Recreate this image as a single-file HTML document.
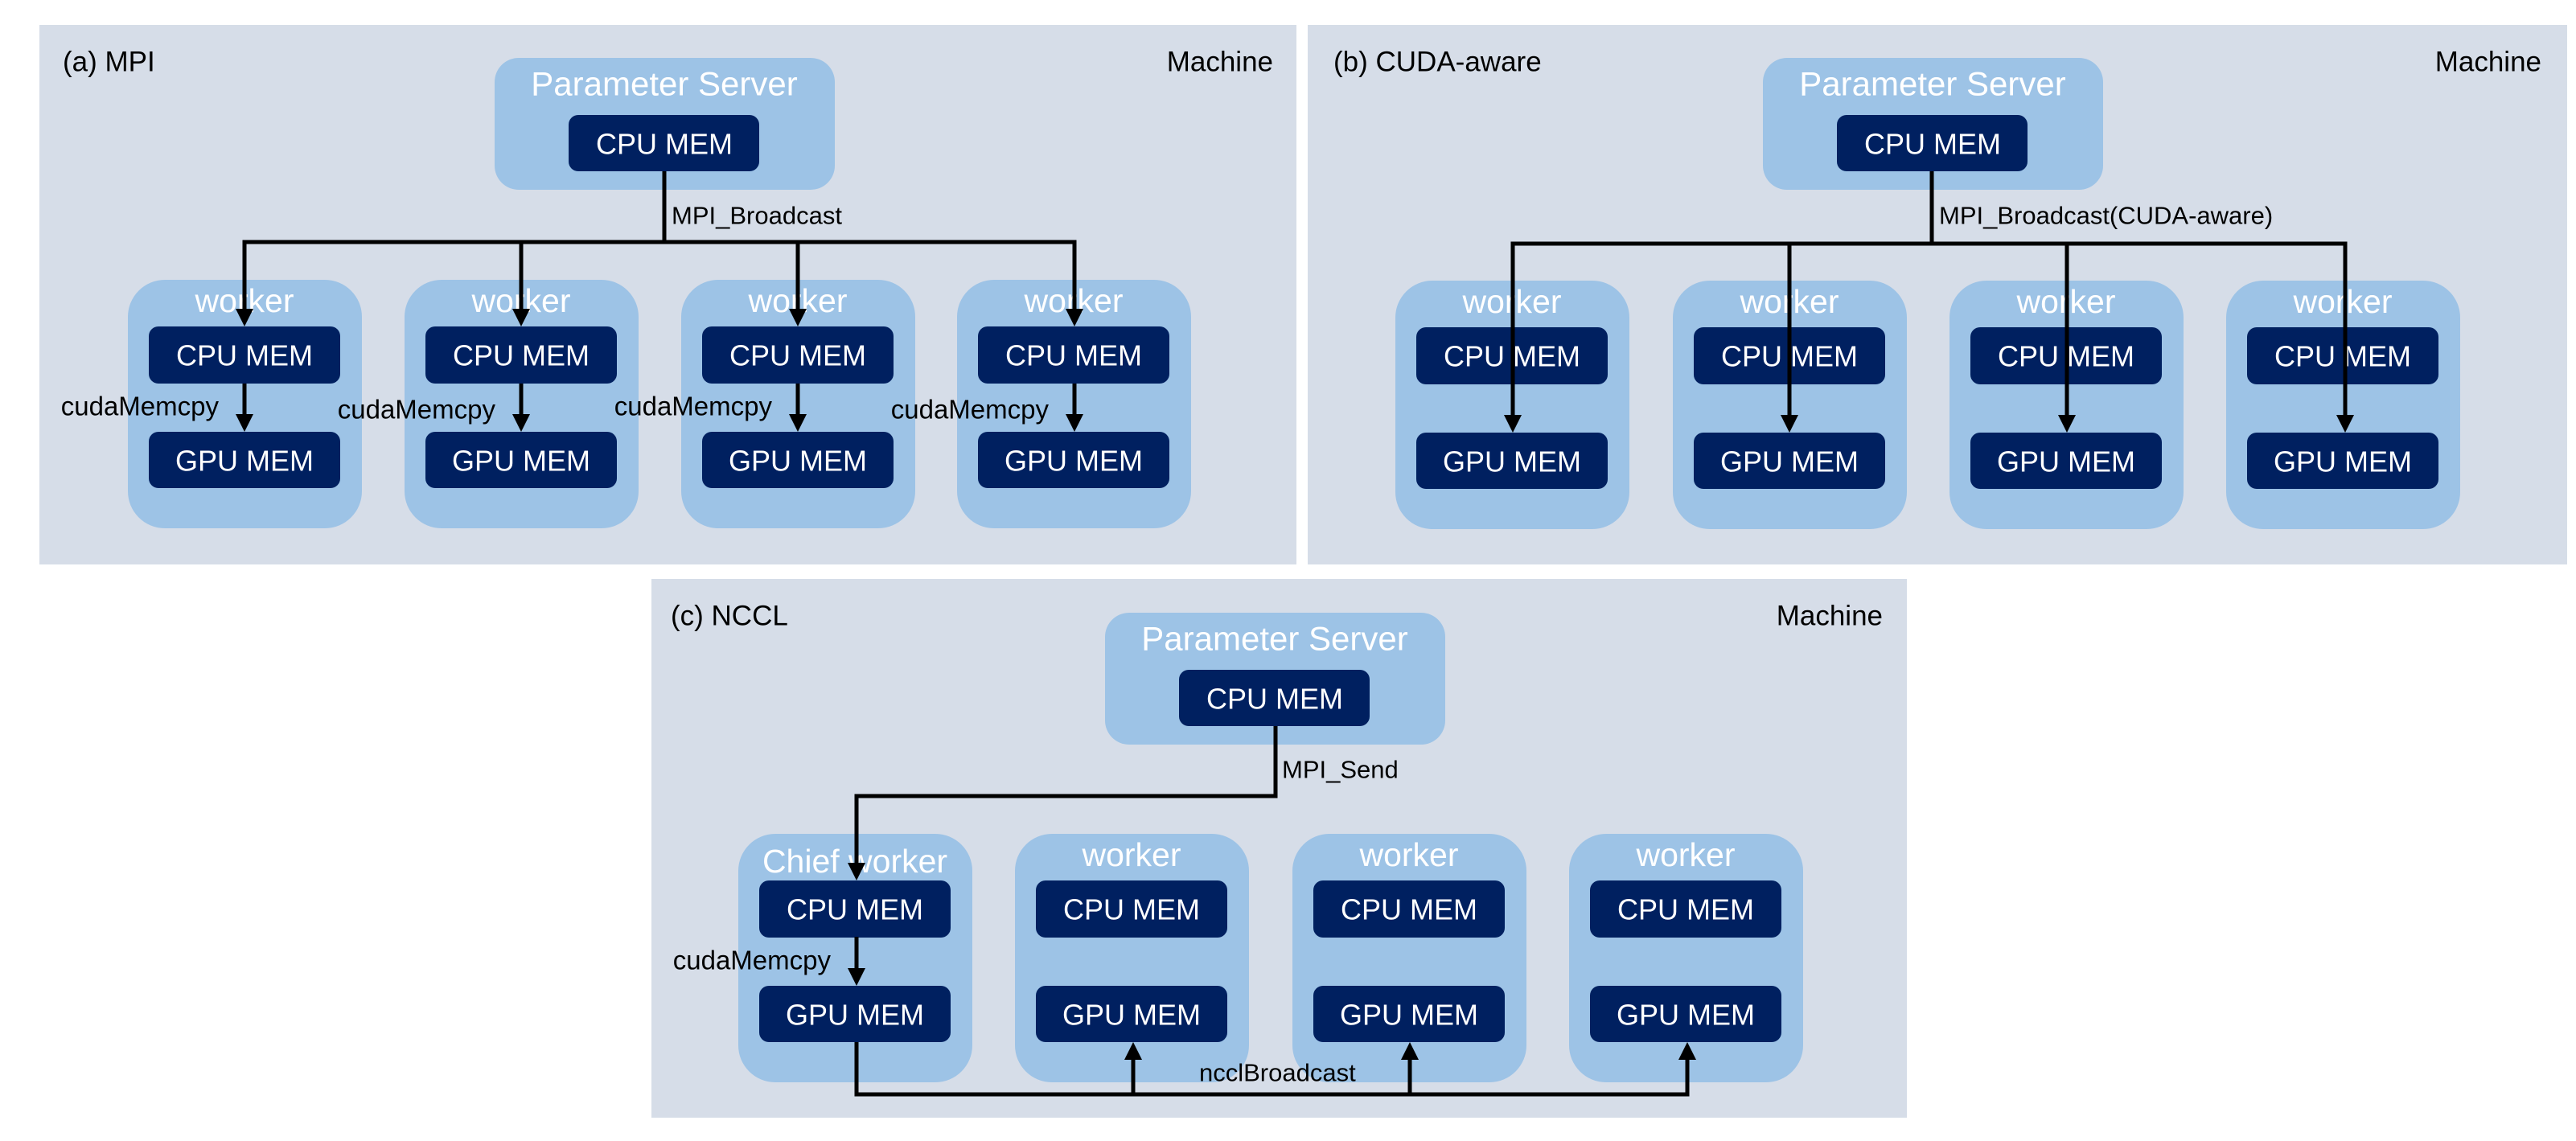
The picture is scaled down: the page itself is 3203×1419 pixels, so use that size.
<!DOCTYPE html>
<html><head><meta charset="utf-8"><style>
html,body{margin:0;padding:0;background:#fff;}
svg{display:block;}
text{font-family:"Liberation Sans",sans-serif;}
</style></head><body>
<svg width="3203" height="1419" viewBox="0 0 3203 1419" xmlns="http://www.w3.org/2000/svg">
<defs>
<g id="ps">
  <rect x="0" y="0" width="423" height="164" rx="30" fill="#9dc3e6"/>
  <text x="211" y="32" font-size="42" fill="#fff" text-anchor="middle" dominant-baseline="central">Parameter Server</text>
  <rect x="92" y="71" width="237" height="70" rx="12" fill="#002060"/>
  <text x="211" y="107" font-size="36" fill="#fff" text-anchor="middle" dominant-baseline="central">CPU MEM</text>
</g>
<g id="wk">
  <rect x="0" y="0" width="291" height="309" rx="46" fill="#9dc3e6"/>
  <rect x="26" y="58" width="238" height="71" rx="12" fill="#002060"/>
  <text x="145" y="94" font-size="36" fill="#fff" text-anchor="middle" dominant-baseline="central">CPU MEM</text>
  <rect x="26" y="189" width="238" height="70" rx="12" fill="#002060"/>
  <text x="145" y="225" font-size="36" fill="#fff" text-anchor="middle" dominant-baseline="central">GPU MEM</text>
</g>
<g id="wkt">
  <use href="#wk"/>
  <text x="145" y="26" font-size="41" fill="#fff" text-anchor="middle" dominant-baseline="central">worker</text>
</g>
</defs>

<!-- Panel A -->
<rect x="49" y="31" width="1563" height="671" fill="#d6dde8"/>
<text x="78" y="77" font-size="35" fill="#000" dominant-baseline="central">(a) MPI</text>
<text x="1583" y="77" font-size="35" fill="#000" text-anchor="end" dominant-baseline="central">Machine</text>
<use href="#ps" x="615" y="72"/>
<use href="#wkt" x="159" y="348"/>
<use href="#wkt" x="503" y="348"/>
<use href="#wkt" x="847" y="348"/>
<use href="#wkt" x="1190" y="348"/>
<g stroke="#000" stroke-width="5" fill="none">
  <path d="M826 213 V301"/>
  <path d="M304 384 V301 H1336 V384"/>
  <path d="M648 301 V384 M992 301 V384"/>
  <path d="M304 477 V516 M648 477 V516 M992 477 V516 M1336 477 V516"/>
</g>
<g fill="#000">
  <path d="M293 384 h22 l-11 22z"/><path d="M637 384 h22 l-11 22z"/><path d="M981 384 h22 l-11 22z"/><path d="M1325 384 h22 l-11 22z"/>
  <path d="M293 515 h22 l-11 22z"/><path d="M637 515 h22 l-11 22z"/><path d="M981 515 h22 l-11 22z"/><path d="M1325 515 h22 l-11 22z"/>
</g>
<text x="835" y="268" font-size="31" dominant-baseline="central">MPI_Broadcast</text>
<g font-size="33" text-anchor="end" dominant-baseline="central">
  <text x="272" y="505">cudaMemcpy</text>
  <text x="616" y="509">cudaMemcpy</text>
  <text x="960" y="505">cudaMemcpy</text>
  <text x="1304" y="509">cudaMemcpy</text>
</g>

<!-- Panel B -->
<rect x="1626" y="31" width="1566" height="671" fill="#d6dde8"/>
<text x="1658" y="77" font-size="35" fill="#000" dominant-baseline="central">(b) CUDA-aware</text>
<text x="3160" y="77" font-size="35" fill="#000" text-anchor="end" dominant-baseline="central">Machine</text>
<use href="#ps" x="2192" y="72"/>
<use href="#wkt" x="1735" y="349"/>
<use href="#wkt" x="2080" y="349"/>
<use href="#wkt" x="2424" y="349"/>
<use href="#wkt" x="2768" y="349"/>
<g stroke="#000" stroke-width="5" fill="none">
  <path d="M2402 213 V303"/>
  <path d="M1881 518 V303 H2916 V518"/>
  <path d="M2225 303 V518 M2570 303 V518"/>
</g>
<g fill="#000">
  <path d="M1870 516 h22 l-11 22z"/><path d="M2214 516 h22 l-11 22z"/><path d="M2559 516 h22 l-11 22z"/><path d="M2905 516 h22 l-11 22z"/>
</g>
<text x="2411" y="268" font-size="31" dominant-baseline="central">MPI_Broadcast(CUDA-aware)</text>

<!-- Panel C -->
<rect x="810" y="720" width="1561" height="670" fill="#d6dde8"/>
<text x="834" y="766" font-size="35" fill="#000" dominant-baseline="central">(c) NCCL</text>
<text x="2341" y="766" font-size="35" fill="#000" text-anchor="end" dominant-baseline="central">Machine</text>
<use href="#ps" x="1374" y="762"/>
<use href="#wk" x="918" y="1037"/>
<text x="1063" y="1071" font-size="41" fill="#fff" text-anchor="middle" dominant-baseline="central">Chief worker</text>
<use href="#wkt" x="1262" y="1037"/>
<use href="#wkt" x="1607" y="1037"/>
<use href="#wkt" x="1951" y="1037"/>
<g stroke="#000" stroke-width="5" fill="none">
  <path d="M1586 903 V990 H1065 V1075"/>
  <path d="M1065 1165 V1206"/>
  <path d="M1065 1296 V1361 H2098 V1316"/>
  <path d="M1409 1361 V1316 M1753 1361 V1316"/>
</g>
<g fill="#000">
  <path d="M1054 1073 h22 l-11 22z"/>
  <path d="M1054 1204 h22 l-11 22z"/>
  <path d="M1398 1318 h22 l-11 -22z"/><path d="M1742 1318 h22 l-11 -22z"/><path d="M2087 1318 h22 l-11 -22z"/>
</g>
<text x="1594" y="957" font-size="31" dominant-baseline="central">MPI_Send</text>
<text x="1033" y="1194" font-size="33" text-anchor="end" dominant-baseline="central">cudaMemcpy</text>
<text x="1491" y="1334" font-size="31" dominant-baseline="central">ncclBroadcast</text>
</svg>
</body></html>
